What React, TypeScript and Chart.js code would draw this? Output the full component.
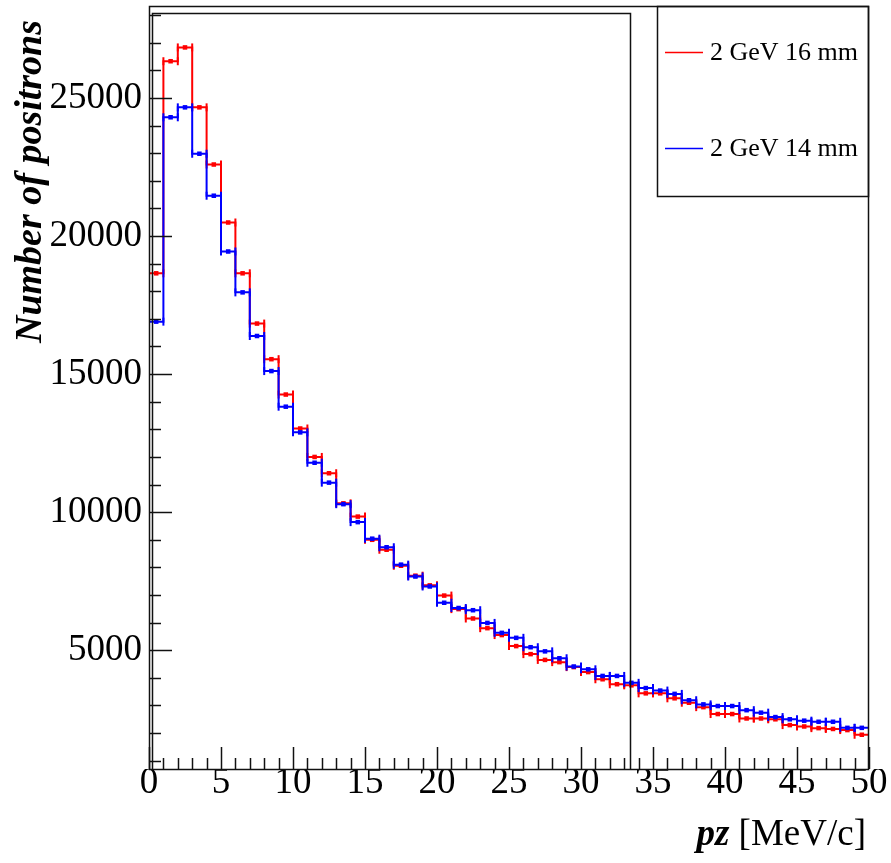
import React, { useEffect, useRef } from 'react';
import { Chart, registerables } from 'chart.js';

Chart.register(...registerables);

// ---- data ----
const X_MIN = 0;
const X_MAX = 50;
const BIN_WIDTH = 1;
const Y_MIN = 700;
const Y_MAX = 28330;

const seriesLabels = ['2 GeV 16 mm', '2 GeV 14 mm'];
const seriesColors = ['#ff0000', '#0000ff'];

// counts per 1 MeV/c bin, bins [0,1), [1,2), ... [49,50)
const counts16mm = [
  18650, 26330, 26830, 24660, 22590, 20490, 18650, 16830, 15540, 14260,
  13030, 12000, 11410, 10320, 9840, 9000, 8640, 8060, 7700, 7350,
  6980, 6490, 6150, 5800, 5550, 5150, 4860, 4650, 4570, 4390,
  4210, 3950, 3770, 3730, 3440, 3440, 3260, 3100, 2940, 2690,
  2690, 2530, 2530, 2500, 2290, 2240, 2180, 2150, 2110, 1940,
];
const counts14mm = [
  16900, 24300, 24660, 22980, 21460, 19440, 17960, 16380, 15110, 13820,
  12890, 11790, 11070, 10290, 9640, 9040, 8730, 8100, 7670, 7310,
  6720, 6530, 6450, 5990, 5630, 5450, 5110, 4960, 4710, 4410,
  4310, 4070, 4070, 3820, 3630, 3540, 3420, 3190, 3040, 2980,
  2980, 2830, 2740, 2580, 2500, 2450, 2410, 2410, 2190, 2190,
];

const xTickLabels = ['0', '5', '10', '15', '20', '25', '30', '35', '40', '45', '50'];
const yTickLabels = ['5000', '10000', '15000', '20000', '25000'];
const Y_MINOR_STEP = 1000;
const X_MINOR_STEP = 1;

const xTitleBold = 'pz';
const xTitleRest = ' [MeV/c]';
const yTitle = 'Number of positrons';

const FONT = '"Liberation Serif", "Times New Roman", Times, serif';

function stepPoints(counts: number[]) {
  const pts = counts.map((v, i) => ({ x: X_MIN + i * BIN_WIDTH, y: v }));
  pts.push({ x: X_MIN + counts.length * BIN_WIDTH, y: counts[counts.length - 1] });
  return pts;
}
function markerPoints(counts: number[]) {
  return counts.map((v, i) => ({ x: X_MIN + (i + 0.5) * BIN_WIDTH, y: v }));
}
function capPoints(counts: number[]) {
  const pts: { x: number; y: number }[] = [];
  counts.forEach((v, i) => {
    pts.push({ x: X_MIN + i * BIN_WIDTH, y: v });
    pts.push({ x: X_MIN + (i + 1) * BIN_WIDTH, y: v });
  });
  return pts;
}

function seriesDatasets(counts: number[], color: string, label: string, baseOrder: number) {
  return [
    {
      type: 'scatter' as const,
      label,
      data: markerPoints(counts),
      pointStyle: 'rect',
      pointRadius: 3.2,
      pointBorderWidth: 0,
      pointBackgroundColor: color,
      backgroundColor: color,
      borderColor: color,
      showLine: false,
      order: baseOrder,
    },
    {
      type: 'scatter' as const,
      label: label + ' caps',
      data: capPoints(counts),
      pointStyle: 'line',
      rotation: 90,
      pointRadius: 4,
      pointBorderWidth: 2,
      pointBorderColor: color,
      borderColor: color,
      showLine: false,
      order: baseOrder + 1,
    },
    {
      type: 'line' as const,
      label: label + ' hist',
      data: stepPoints(counts),
      stepped: 'before',
      borderColor: color,
      borderWidth: 2,
      pointRadius: 0,
      fill: false,
      order: baseOrder + 2,
    },
  ];
}

const rootDecor = {
  id: 'rootDecor',
  afterDraw(chart: any) {
    const { ctx, chartArea: a, scales } = chart;
    const xs = scales.x;
    const ys = scales.y;
    ctx.save();
    ctx.strokeStyle = '#111';
    ctx.lineWidth = 1.5;

    // y ticks (inside, from left axis)
    for (let v = Y_MINOR_STEP; v <= Y_MAX; v += Y_MINOR_STEP) {
      if (v < Y_MIN) continue;
      const py = Math.round(ys.getPixelForValue(v)) + 0.5;
      const len = yTickLabels.includes(String(v)) ? 23 : 12;
      ctx.beginPath();
      ctx.moveTo(a.left, py);
      ctx.lineTo(a.left + len, py);
      ctx.stroke();
    }
    // x ticks (inside, from bottom axis)
    for (let v = X_MIN; v <= X_MAX; v += X_MINOR_STEP) {
      const px = Math.round(xs.getPixelForValue(v)) + 0.5;
      const len = xTickLabels.includes(String(v)) ? 22 : 11;
      ctx.beginPath();
      ctx.moveTo(px, a.bottom);
      ctx.lineTo(px, a.bottom - len);
      ctx.stroke();
    }

    // outer frame
    ctx.strokeRect(a.left + 0.5, a.top + 0.5, a.right - a.left - 1, a.bottom - a.top);
    // inner (second pad) frame
    ctx.beginPath();
    ctx.moveTo(a.left + 3.5, a.bottom);
    ctx.lineTo(a.left + 3.5, 13.5);
    ctx.lineTo(630.5, 13.5);
    ctx.lineTo(630.5, a.bottom);
    ctx.stroke();

    // legend box
    ctx.strokeRect(657.5, a.top + 0.5, a.right - 658, 190);
    const legendY = [52, 148];
    ctx.font = `26px ${FONT}`;
    ctx.textBaseline = 'middle';
    ctx.textAlign = 'left';
    seriesLabels.forEach((lab, i) => {
      ctx.strokeStyle = seriesColors[i];
      ctx.lineWidth = 1.5;
      ctx.beginPath();
      ctx.moveTo(665, legendY[i] + 0.5);
      ctx.lineTo(703, legendY[i] + 0.5);
      ctx.stroke();
      ctx.fillStyle = '#000';
      ctx.fillText(lab, 710, legendY[i] + 1);
    });

    // x title
    ctx.fillStyle = '#000';
    ctx.textBaseline = 'alphabetic';
    const boldFont = `bold italic 37px ${FONT}`;
    const normFont = `37px ${FONT}`;
    ctx.font = normFont;
    const wRest = ctx.measureText(xTitleRest).width;
    ctx.font = boldFont;
    const wBold = ctx.measureText(xTitleBold).width;
    const xEnd = 866;
    ctx.textAlign = 'left';
    ctx.fillText(xTitleBold, xEnd - wRest - wBold, 845);
    ctx.font = normFont;
    ctx.fillText(xTitleRest, xEnd - wRest, 845);

    // y title
    ctx.save();
    ctx.translate(41, 20);
    ctx.rotate(-Math.PI / 2);
    ctx.font = `bold italic 38px ${FONT}`;
    ctx.textAlign = 'right';
    ctx.textBaseline = 'alphabetic';
    ctx.fillText(yTitle, 0, 0);
    ctx.restore();

    ctx.restore();
  },
};

function zeroPadding(s: any) {
  s.paddingTop = 0;
  s.paddingBottom = 0;
  s.paddingLeft = 0;
  s.paddingRight = 0;
}

export default function App() {
  const ref = useRef<HTMLCanvasElement>(null);
  useEffect(() => {
    document.body.style.margin = '0';
    const canvas = ref.current!;
    const chart = new Chart(canvas, {
      type: 'scatter',
      data: {
        datasets: [
          ...seriesDatasets(counts14mm, seriesColors[1], seriesLabels[1], 0),
          ...seriesDatasets(counts16mm, seriesColors[0], seriesLabels[0], 3),
        ] as any,
      },
      options: {
        responsive: false,
        animation: false,
        events: [],
        layout: { padding: { top: 4, right: 22, left: 0, bottom: 0 } },
        plugins: {
          legend: { display: false },
          tooltip: { enabled: false },
        },
        scales: {
          x: {
            type: 'linear',
            min: X_MIN,
            max: X_MAX,
            grid: { display: false, drawTicks: false },
            border: { display: false },
            afterBuildTicks: (s: any) => {
              s.ticks = xTickLabels.map((t) => ({ value: Number(t) }));
            },
            afterFit: (s: any) => {
              s.height = 94;
              zeroPadding(s);
            },
            ticks: {
              autoSkip: false,
              maxRotation: 0,
              padding: 0,
              color: '#000',
              font: { family: FONT, size: 37, lineHeight: 0.76 },
              callback: (v: any) => String(v),
            },
          },
          y: {
            type: 'linear',
            min: Y_MIN,
            max: Y_MAX,
            grid: { display: false, drawTicks: false },
            border: { display: false },
            afterBuildTicks: (s: any) => {
              s.ticks = yTickLabels.map((t) => ({ value: Number(t) }));
            },
            afterFit: (s: any) => {
              s.width = 149;
              zeroPadding(s);
            },
            ticks: {
              autoSkip: false,
              padding: 7,
              color: '#000',
              font: { family: FONT, size: 37 },
              callback: (v: any) => String(v),
            },
          },
        },
      } as any,
      plugins: [rootDecor],
    });
    return () => chart.destroy();
  }, []);
  return (
    <canvas
      ref={ref}
      width={891}
      height={863}
      style={{ display: 'block', width: 891, height: 863 }}
    />
  );
}
